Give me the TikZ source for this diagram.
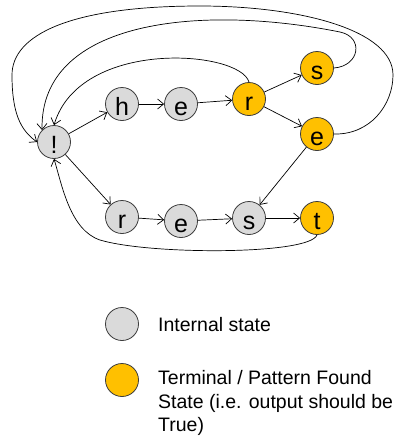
\documentclass[tikz,border=0pt]{standalone}
\usepackage{fontspec}
\setmainfont{Liberation Sans}
\usepackage{xcolor}
\usepackage{tikz}
\definecolor{stategray}{RGB}{218,218,218}
\definecolor{hitorange}{RGB}{255,192,0}
\definecolor{rimgray}{RGB}{60,60,60}
\usetikzlibrary{positioning,arrows.meta}

\begin{document}
\begin{tikzpicture}[
    x=1pt, y=-1pt,
    state/.style={circle, minimum size=33pt, inner sep=0pt, draw=rimgray, line width=0.8pt, fill=stategray, font=\fontsize{25}{30}\selectfont, text height=22pt, text depth=0pt},
    final/.style={state, fill=hitorange},
    arrow/.style={-{Straight Barb[length=6pt, width=10pt]}, line width=0.7pt},
    legendtext/.style={font=\fontsize{19.5}{23.5}\selectfont, inner sep=0pt, align=left},
]
\useasboundingbox (0,0) rectangle (395,437);

% States
\node (bang) [state] at (54,142) {!};
\node (h)  [state] at (122,104) {h};
\node (e1) [state] at (181,104) {e};
\node (r1) [final] at (249,99) {r};
\node (s1) [final] at (317,68) {s};
\node (e2) [final] at (317,134) {e};
\node (r2) [state] at (122,217) {r};
\node (e3) [state] at (181,221) {e};
\node (s2) [state] at (249,218) {s};
\node (t)  [final] at (317,218) {t};

% Forward transitions
\draw[arrow] (bang) -- (h);
\draw[arrow] (h) -- (e1);
\draw[arrow] (e1) -- (r1);
\draw[arrow] (r1) -- (s1);
\draw[arrow] (r1) -- (e2);
\draw[arrow] (bang) -- (r2);
\draw[arrow] (r2) -- (e3);
\draw[arrow] (e3) -- (s2);
\draw[arrow] (s2) -- (t);
\draw[arrow] (e2) -- (s2);

% Back to the start state
\draw[arrow] (r1.north) .. controls (240,50) and (80,38) .. (bang.north);
\draw[arrow] (s1.east) .. controls (360,66) and (364,37) .. (340,32)
    .. controls (200,4) and (40,20) .. (bang.north west);
\draw[arrow] (e2.east) .. controls (370,135) and (393,105) .. (393,75)
    .. controls (393,30) and (300,6) .. (200,6)
    .. controls (70,6) and (12,35) .. (12,75)
    .. controls (12,112) and (20,130) .. (bang.west);
\draw[arrow] (t.south) .. controls (310,255) and (150,255) .. (100,240)
    .. controls (70,230) and (62,185) .. (bang.south);

% Legend
\node (keyint) [state] at (122,324) {};
\node (keyfin) [final] at (122,380) {};
\node (intlabel) [legendtext, anchor=west] at (158,325) {Internal state};
\node (finlabel) [legendtext, anchor=west] at (158,403) {Terminal / Pattern Found\\State (i.e. output should be\\True)};

\end{tikzpicture}
\end{document}
